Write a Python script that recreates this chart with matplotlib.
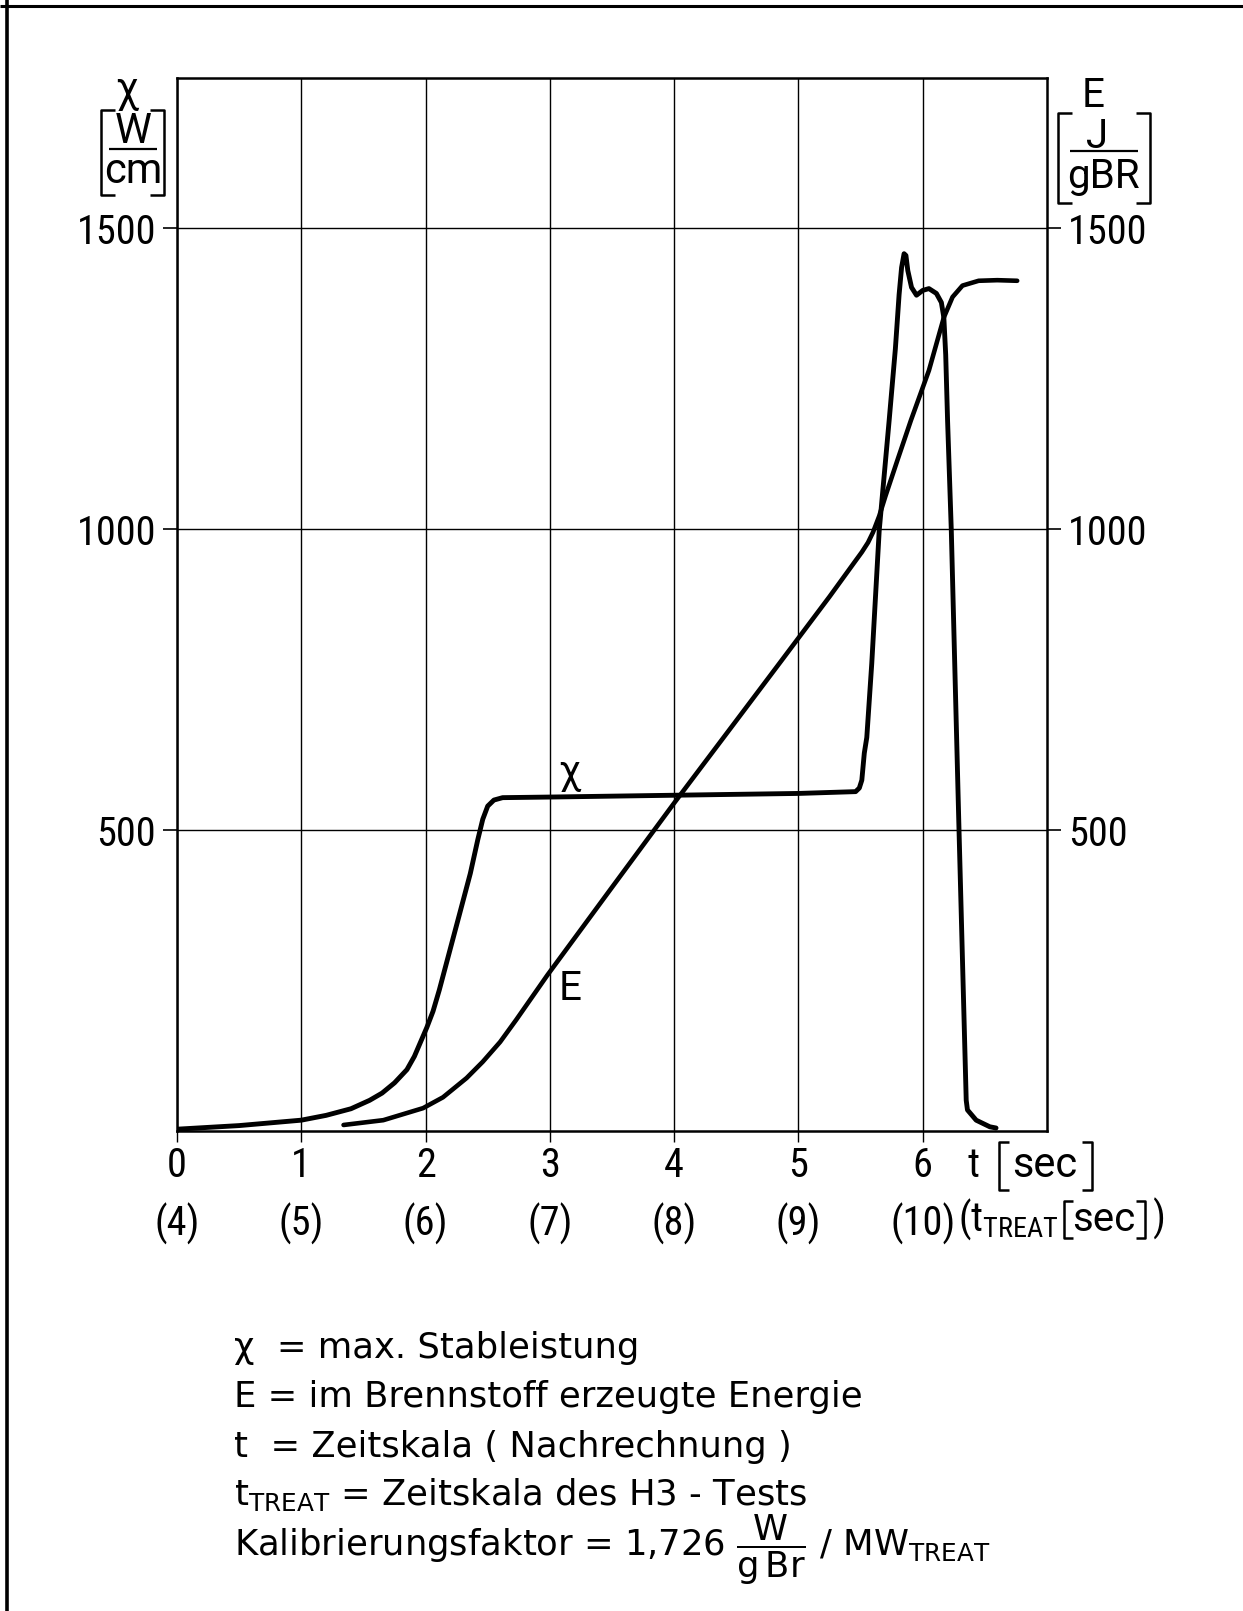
import matplotlib
matplotlib.use("Agg")
import matplotlib.pyplot as plt
from matplotlib.lines import Line2D

# max. Stableistung chi [W/cm] over t [sec]
chi_t = [0.0, 0.5, 1.0, 1.2, 1.4, 1.55, 1.65, 1.75, 1.85, 1.91, 1.96, 2.01, 2.06,
         2.11, 2.19, 2.27, 2.36, 2.42, 2.46, 2.50, 2.55, 2.62, 3.0, 4.0, 5.0, 5.46,
         5.49, 5.51, 5.53, 5.55, 5.59, 5.65, 5.73, 5.78, 5.81, 5.83, 5.85, 5.865,
         5.88, 5.91, 5.95, 6.0, 6.05, 6.11, 6.15, 6.17, 6.185, 6.20, 6.23, 6.29,
         6.35, 6.36, 6.43, 6.54, 6.59]
chi_w = [3, 9, 18, 26, 37, 51, 63, 80, 102, 124, 148, 172, 199,
         234, 296, 358, 428, 484, 518, 540, 550, 554, 555, 558, 561, 564,
         570, 583, 628, 654, 777, 998, 1181, 1300, 1390, 1435, 1458, 1455,
         1430, 1402, 1389, 1397, 1400, 1392, 1377, 1352, 1290, 1181, 998, 516,
         51, 35, 18, 7, 5]

# im Brennstoff erzeugte Energie E [J/gBR]
e_t = [1.34, 1.66, 1.98, 2.14, 2.33, 2.46, 2.60, 2.73, 2.98, 3.5, 4.0, 4.5, 4.85,
       5.25, 5.45, 5.51, 5.56, 5.60, 5.65, 5.70, 5.80, 5.905, 6.05, 6.17, 6.24,
       6.32, 6.45, 6.6, 6.76]
e_j = [10, 18, 38, 56, 88, 115, 148, 185, 259, 405, 545, 682, 778,
       888, 945, 962, 978, 995, 1022, 1055, 1117, 1181, 1264, 1352, 1386,
       1405, 1413, 1414, 1413]

t_ticks = [0, 1, 2, 3, 4, 5, 6]
t_labels = ["0", "1", "2", "3", "4", "5", "6"]
treat_labels = ["(4)", "(5)", "(6)", "(7)", "(8)", "(9)", "(10)"]
y_ticks = [500, 1000, 1500]
y_labels = ["500", "1000", "1500"]

legend_lines = [
    "χ  = max. Stableistung",
    "E = im Brennstoff erzeugte Energie",
    "t  = Zeitskala ( Nachrechnung )",
    r"t$_{\mathrm{TREAT}}$ = Zeitskala des H3 - Tests",
    r"Kalibrierungsfaktor = 1,726 $\dfrac{\mathrm{W}}{\mathrm{g\,Br}}$ / MW$_{\mathrm{TREAT}}$",
]

plt.rcParams["font.family"] = ["Roboto Condensed", "DejaVu Sans"]
plt.rcParams["mathtext.fontset"] = "custom"
plt.rcParams["mathtext.rm"] = "DejaVu Sans"
plt.rcParams["mathtext.it"] = "DejaVu Sans"
plt.rcParams["mathtext.sf"] = "Roboto Condensed"

W, H = 1243, 1611
fig = plt.figure(figsize=(W / 100, H / 100), dpi=100)


def fx(px):
    return px / W


def fy(py):
    return 1 - py / H


def fig_line(xs, ys, lw=1.8):
    fig.add_artist(Line2D([fx(x) for x in xs], [fy(y) for y in ys],
                          transform=fig.transFigure, color="black", lw=lw,
                          solid_capstyle="butt"))


def brackets(x0, x1, y0, y1, serif=12, lw=1.8):
    fig_line([x0 + serif, x0, x0, x0 + serif], [y0, y0, y1, y1], lw)
    fig_line([x1 - serif, x1, x1, x1 - serif], [y0, y0, y1, y1], lw)


def ptext(x, y, s, size=29, ha="center", **kw):
    fig.text(fx(x), fy(y), s, fontsize=size, ha=ha, va="baseline", **kw)


ax = fig.add_axes([fx(177), fy(1131), fx(1047) - fx(177), (1131 - 78) / H])
ax.set_xlim(0, 7)
ax.set_ylim(0, 1750)

ax.plot(chi_t, chi_w, color="black", lw=3.5, solid_joinstyle="round",
        solid_capstyle="round")
ax.plot(e_t, e_j, color="black", lw=3.3, solid_joinstyle="round",
        solid_capstyle="round")

ax.text(3.16, 595, "χ", fontsize=29, ha="center", va="center", family="Roboto")
ax.text(3.16, 237, "E", fontsize=29, ha="center", va="center", family="Roboto")

for s in ax.spines.values():
    s.set_linewidth(1.8)
ax.set_xticks(t_ticks, [f"{a}\n{b}" for a, b in zip(t_labels, treat_labels)])
ax.set_yticks(y_ticks, y_labels)
ax.grid(True, color="black", lw=1.0)
ax.tick_params(axis="x", direction="out", length=8, width=1.0, pad=3, labelsize=29)
ax.tick_params(axis="y", direction="out", length=10, width=1.2, pad=5, labelsize=29,
               right=True, labelright=True)
for lab in ax.get_xticklabels():
    lab.set_linespacing(1.55)

# time axis names next to the tick rows
ptext(974, 1177, "t")
ptext(1045, 1177, "sec", size=30, family="Roboto")
brackets(999, 1092, 1142, 1190, serif=10)
ptext(958, 1231, r"(t$_{\mathsf{TREAT}}$", ha="left")
ptext(1104, 1231, "sec", size=29, family="Roboto")
brackets(1064, 1145, 1201, 1238, serif=9)
ptext(1153, 1231, ")", ha="left")

# unit label left: chi [W/cm]
ptext(127, 102, "χ", size=30, family="Roboto")
ptext(133, 143, "W", size=30, family="Roboto")
ptext(133, 183, "cm", size=30, family="Roboto")
fig_line([109, 157], [149, 149], lw=1.6)
brackets(101, 164, 110, 195, serif=14)

# unit label right: E [J/gBR]
ptext(1093, 107, "E", size=29, family="Roboto")
ptext(1097, 148, "J", size=29, family="Roboto")
ptext(1103, 188, "gBR", size=29, family="Roboto")
fig_line([1070, 1138], [151, 151], lw=1.6)
brackets(1058, 1150, 113, 203, serif=14)

# legend block
baselines = [1358, 1407, 1457, 1505, 1556]
for txt, yb in zip(legend_lines, baselines):
    ptext(234, yb, txt, size=25.5, ha="left", family="DejaVu Sans")

# page frame (left and top edges of the scan)
fig_line([7, 7], [0, H], lw=2.6)
fig_line([0, W], [6, 6], lw=2.2)

fig.savefig("out.png", dpi=100)
